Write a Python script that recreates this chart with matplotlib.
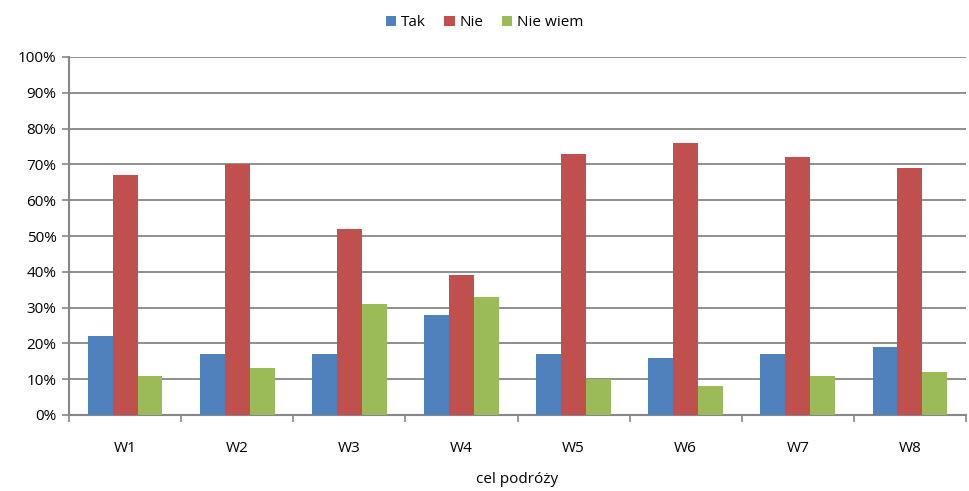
import matplotlib.pyplot as plt
import numpy as np
from matplotlib.ticker import FuncFormatter

categories = ["W1", "W2", "W3", "W4", "W5", "W6", "W7", "W8"]
tak = [22, 17, 17, 28, 17, 16, 17, 19]
nie = [67, 70, 52, 39, 73, 76, 72, 69]
nie_wiem = [11, 13, 31, 33, 10, 8, 11, 12]

series = [("Tak", tak, "#4f81bd"), ("Nie", nie, "#c0504d"), ("Nie wiem", nie_wiem, "#9bbb59")]

plt.rcParams["font.family"] = ["Open Sans", "DejaVu Sans"]

fig = plt.figure(figsize=(9.69, 4.91), dpi=100)
ax = fig.add_axes([69 / 969, 76 / 491, 897 / 969, 358 / 491])

x = np.arange(len(categories))
w = 1 / 4.5
for i, (name, vals, col) in enumerate(series):
    ax.bar(x + (i - 1) * w, vals, width=w, color=col, label=name, zorder=3)

ax.set_xlim(-0.5, len(categories) - 0.5)
ax.set_ylim(0, 100)
ax.set_yticks(np.arange(0, 101, 10))
ax.yaxis.set_major_formatter(FuncFormatter(lambda v, _: f"{v:.0f}%"))
ax.grid(axis="y", color="#868686", linewidth=1.3, zorder=0)

ax.set_xticks(x)
ax.set_xticklabels(categories)
ax.set_xticks(np.arange(-0.5, len(categories)), minor=True)
ax.tick_params(axis="x", which="major", length=0, pad=19, labelsize=11)
ax.tick_params(axis="x", which="minor", length=5, width=1.2, color="#868686", direction="out")
ax.tick_params(axis="y", length=5, width=1.2, color="#868686", labelsize=11, pad=4)

for s in ["top", "right"]:
    ax.spines[s].set_visible(False)
for s in ["left", "bottom"]:
    ax.spines[s].set_color("#868686")
    ax.spines[s].set_linewidth(1.5)

ax.set_xlabel("cel podróży", fontsize=11, labelpad=11)

fig.legend(loc="upper center", bbox_to_anchor=(0.5, 0.997), ncol=3, frameon=False,
           fontsize=11, handlelength=0.7, handleheight=0.7, handletextpad=0.3,
           columnspacing=1.2)

fig.savefig("out.png", dpi=100)
